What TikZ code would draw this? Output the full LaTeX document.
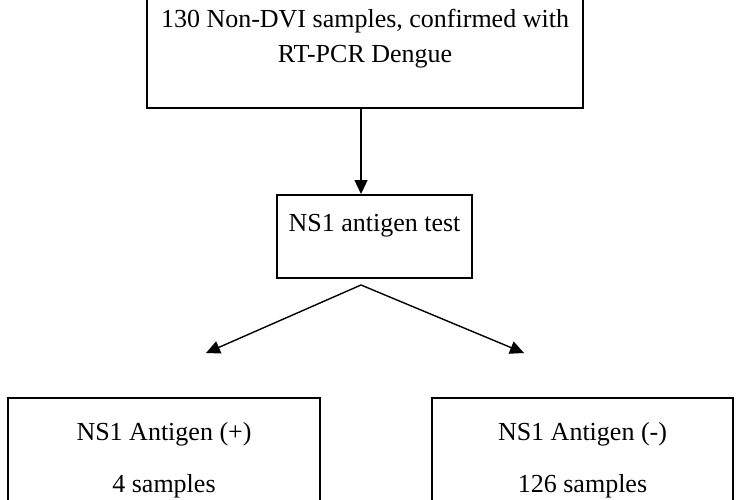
\documentclass[tikz,border=0pt]{standalone}
\usepackage{fontspec}
\setmainfont{Liberation Serif}
\usetikzlibrary{arrows.meta}
\begin{document}
\begin{tikzpicture}[x=1pt,y=-1pt,
    box/.style={draw, line width=1.3pt, inner sep=0pt, align=center,
        font=\fontsize{26}{35}\selectfont},
    arr/.style={line width=1.4pt, -{Triangle[length=14pt,width=13pt]}}]

    % Frame
    \useasboundingbox (0,0) rectangle (750,499);

    % Boxes
    \node[box, minimum width=436pt, minimum height=138pt] (top) at (365,39)
        {130 Non-DVI samples, confirmed with\\RT-PCR Dengue};
    \node[box, minimum width=195pt, minimum height=83pt] (ns1) at (374.5,236.5)
        {NS1 antigen test\\[-8pt]};
    \node[box, minimum width=312pt, minimum height=124pt] (pos) at (164,460)
        {NS1 Antigen (+)\\[17pt]4 samples};
    \node[box, minimum width=301pt, minimum height=124pt] (neg) at (582.5,460)
        {NS1 Antigen (-)\\[17pt]126 samples};

    % Arrow ends
    \coordinate (a1) at (361,108);
    \coordinate (a2) at (361,194);
    \coordinate (apex) at (361,285);
    \coordinate (left) at (206,353);
    \coordinate (right) at (524,353);

    % Connections
    \draw[arr] (a1) -- (a2);
    \draw[arr] (apex) -- (left);
    \draw[arr] (apex) -- (right);

\end{tikzpicture}
\end{document}
